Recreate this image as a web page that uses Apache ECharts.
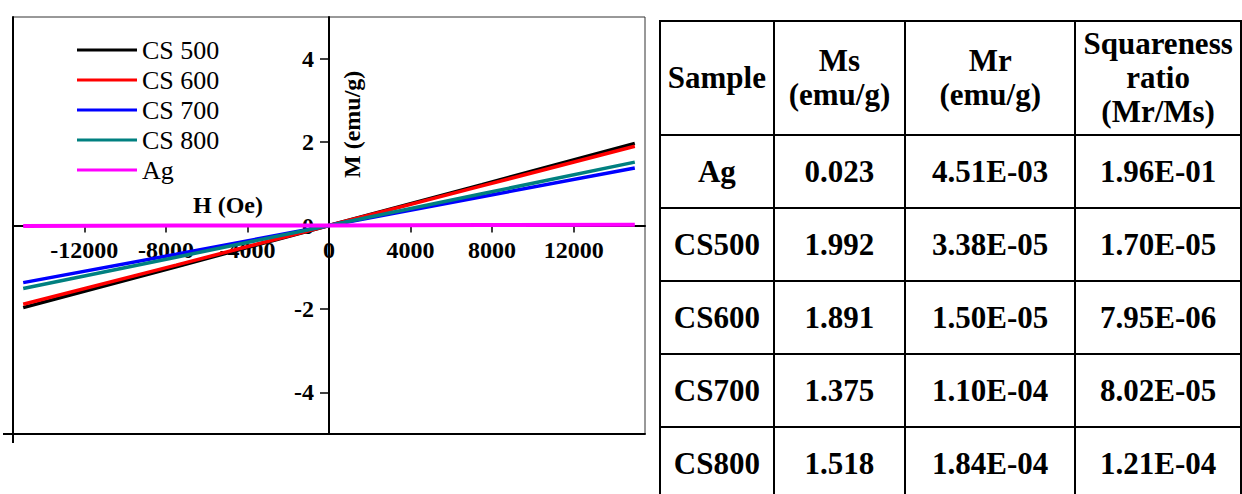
<!DOCTYPE html>
<html>
<head>
<meta charset="utf-8">
<script src="https://cdn.jsdelivr.net/npm/echarts@6/dist/echarts.min.js"></script>
<style>
  html, body { margin: 0; padding: 0; background: #fff; width: 1242px; height: 494px; overflow: hidden; position: relative; }
  #chart { position: absolute; left: 0; top: 0; width: 656px; height: 494px; }
  #tbl { position: absolute; left: 659px; top: 20px; border-collapse: collapse; font-weight: bold; font-size: 31px; color: #000; table-layout: fixed; }
  #tbl td { border: 2px solid #000; text-align: center; vertical-align: middle; padding: 0; line-height: 34px; font-weight: bold; white-space: nowrap; }
</style>
</head>
<body>
<div id="chart"></div>
<table id="tbl"></table>
<script>
// ---- data ----
const fieldH = [-15000, -7500, 0, 7500, 15000];
const cs500 = [-1.97, -0.99, 0, 0.98, 1.97];
const cs600 = [-1.89, -0.95, 0, 0.95, 1.90];
const cs700 = [-1.37, -0.69, 0, 0.69, 1.38];
const cs800 = [-1.51, -0.76, 0, 0.76, 1.52];
const ag    = [-0.01, 0, 0, 0.01, 0.02];
const seriesNames = ['CS 500', 'CS 600', 'CS 700', 'CS 800', 'Ag'];
const xTicks = [-12000, -8000, -4000, 0, 4000, 8000, 12000];
const yTicks = [-4, -2, 0, 2, 4];
const xRange = [-15500, 15500];
const yRange = [-5, 5];

const tableHeader = ['Sample', 'Ms<br>(emu/g)', 'Mr<br>(emu/g)', 'Squareness<br>ratio<br>(Mr/Ms)'];
const sampleNames = ['Ag', 'CS500', 'CS600', 'CS700', 'CS800'];
const msValues = ['0.023', '1.992', '1.891', '1.375', '1.518'];
const mrValues = ['4.51E-03', '3.38E-05', '1.50E-05', '1.10E-04', '1.84E-04'];
const sqValues = ['1.96E-01', '1.70E-05', '7.95E-06', '8.02E-05', '1.21E-04'];

// ---- pick an installed Times-like serif font ----
function pickFont(cands) {
  const c = document.createElement('canvas').getContext('2d');
  const test = 'Sample 12000 mwiWQ';
  const bases = ['monospace', 'sans-serif'];
  const base = {};
  bases.forEach(b => { c.font = '30px ' + b; base[b] = c.measureText(test).width; });
  for (const f of cands) {
    let ok = true;
    for (const b of bases) {
      c.font = '30px "' + f + '", ' + b;
      if (Math.abs(c.measureText(test).width - base[b]) < 0.5) ok = false;
    }
    if (ok) return f;
  }
  return null;
}
const picked = pickFont(['Liberation Serif', 'Times New Roman', 'Tinos', 'Times', 'Nimbus Roman', 'Nimbus Roman No9 L', 'FreeSerif', 'DejaVu Serif', 'Noto Serif']);
const font = picked ? '"' + picked + '", serif' : 'serif';

// ---- table ----
const colWidths = [114, 132, 171, 166];
const tbl = document.getElementById('tbl');
tbl.style.fontFamily = font;
let html = '<colgroup>' + colWidths.map(w => '<col style="width:' + w + 'px">').join('') + '</colgroup>';
html += '<tr style="height:114px">' + tableHeader.map(h => '<td>' + h + '</td>').join('') + '</tr>';
for (let i = 0; i < sampleNames.length; i++) {
  html += '<tr style="height:73px"><td>' + sampleNames[i] + '</td><td>' + msValues[i] + '</td><td>' + mrValues[i] + '</td><td>' + sqValues[i] + '</td></tr>';
}
tbl.innerHTML = html;

// ---- chart ----
const colors = ['#000000', '#ff0000', '#0000ff', '#008080', '#ff00ff'];
const allValues = [cs500, cs600, cs700, cs800, ag];
const gridBox = { left: 13, top: 17, width: 632, height: 417 };
// offsets that bring the labelled axes onto the origin lines
const xAxisOffset = -gridBox.height * (0 - yRange[0]) / (yRange[1] - yRange[0]);
const yAxisOffset = -gridBox.width * (0 - xRange[0]) / (xRange[1] - xRange[0]);

const chart = echarts.init(document.getElementById('chart'), null, { renderer: 'svg' });
const tickLabelStyle = { color: '#000', fontFamily: font, fontWeight: 'bold', fontSize: 24, formatter: v => String(v) };

chart.setOption({
  animation: false,
  color: colors,
  grid: Object.assign({ show: true, borderColor: '#333', borderWidth: 1, backgroundColor: 'transparent', outerBoundsMode: 'none', containLabel: false }, gridBox),
  legend: {
    orient: 'vertical', left: 72, top: 30, itemWidth: 60, itemHeight: 3, itemGap: 0, icon: 'rect',
    data: seriesNames,
    textStyle: { color: '#000', fontFamily: font, fontSize: 26, lineHeight: 30 }
  },
  xAxis: [{
    type: 'value', min: xRange[0], max: xRange[1], position: 'bottom', offset: xAxisOffset,
    axisLine: { onZero: false, lineStyle: { color: '#000', width: 2 } },
    axisTick: { show: true, inside: false, length: 7, lineStyle: { color: '#000', width: 1.5 }, customValues: xTicks },
    axisLabel: Object.assign({ margin: 12, customValues: xTicks }, tickLabelStyle),
    splitLine: { show: false }
  }, {
    type: 'value', min: xRange[0], max: xRange[1], position: 'bottom',
    axisLine: { onZero: false, lineStyle: { color: '#000', width: 2 } },
    axisTick: { show: true, length: 9, lineStyle: { color: '#000', width: 2 }, customValues: [xRange[0]] },
    axisLabel: { show: false }, splitLine: { show: false }
  }],
  yAxis: [{
    type: 'value', min: yRange[0], max: yRange[1], position: 'left', offset: yAxisOffset,
    axisLine: { onZero: false, lineStyle: { color: '#000', width: 2 } },
    axisTick: { show: true, inside: false, length: 9, lineStyle: { color: '#000', width: 1.5 }, customValues: yTicks },
    axisLabel: Object.assign({ margin: 15, customValues: yTicks }, tickLabelStyle),
    splitLine: { show: false }
  }, {
    type: 'value', min: yRange[0], max: yRange[1], position: 'left',
    axisLine: { onZero: false, lineStyle: { color: '#000', width: 2 } },
    axisTick: { show: true, length: 10, lineStyle: { color: '#000', width: 2 }, customValues: [yRange[0]] },
    axisLabel: { show: false }, splitLine: { show: false }
  }],
  graphic: [{
    type: 'text', left: 193, top: 193, z: 10,
    style: { text: 'H (Oe)', fill: '#000', font: 'bold 24px ' + font }
  }, {
    type: 'text', x: 340, y: 178, rotation: Math.PI / 2, z: 10,
    style: { text: 'M (emu/g)', fill: '#000', font: 'bold 24px ' + font, textVerticalAlign: 'top' }
  }],
  series: seriesNames.map((name, i) => ({
    name: name, type: 'line', xAxisIndex: 0, yAxisIndex: 0,
    symbol: 'none', smooth: false,
    lineStyle: { width: i === 4 ? 4 : 3.5, color: colors[i] },
    itemStyle: { color: colors[i] },
    data: fieldH.map((h, k) => [h, allValues[i][k]])
  }))
});
</script>
</body>
</html>
